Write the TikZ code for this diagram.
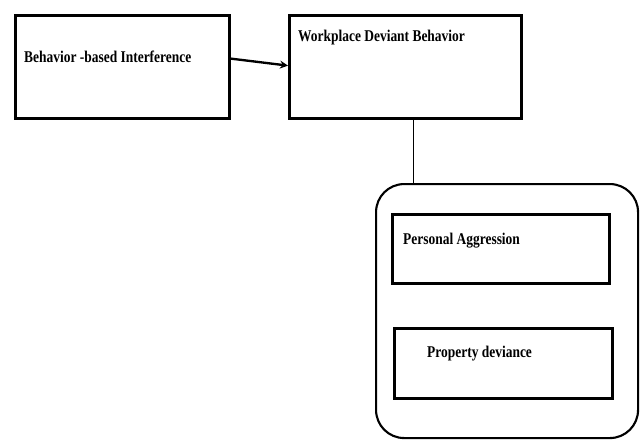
\documentclass[tikz,border=0pt]{standalone}
\usepackage{fontspec}
\setmainfont{Liberation Serif}[FakeStretch=0.82]
\begin{document}
\begin{tikzpicture}[x=0.03cm,y=-0.03cm,
		box/.style={draw,line width=2.2pt,inner sep=0pt,anchor=north west},
		lbl/.style={anchor=west,inner sep=0pt,font=\bfseries\fontsize{14}{16}\selectfont}]
			\useasboundingbox (0,0) rectangle (643,439);
			% outer boxes
			\node[box,minimum width=214*0.03cm,minimum height=103*0.03cm] (bi) at (14,14) {};
			\node[box,minimum width=232*0.03cm,minimum height=103*0.03cm] (wdb) at (288,14) {};
			\node[box,line width=1.8pt,rounded corners=24pt,minimum width=262*0.03cm,minimum height=254*0.03cm] (dim) at (375,183) {};
			% dimensions
			\node[box,minimum width=217*0.03cm,minimum height=69*0.03cm] (pa) at (391,213) {};
			\node[box,minimum width=218*0.03cm,minimum height=70*0.03cm] (pd) at (393,327) {};
			% texts
			\node[lbl] (tbi) at (24,57) {Behavior -based Interference};
			\node[lbl] (twdb) at (298,38) {Workplace Deviant Behavior};
			\node[lbl] (tpa) at (403,241) {Personal Aggression};
			\node[lbl] (tpd) at (427,354) {Property deviance};
			% connectors
			\draw[-stealth,line width=2pt]([yshift=7pt]bi.east)--([yshift=1pt]wdb.west);
			\draw[line width=1.6pt]([xshift=7pt]wdb.south)--([xshift=7pt]wdb.south |- dim.north);
		\end{tikzpicture}
\end{document}
